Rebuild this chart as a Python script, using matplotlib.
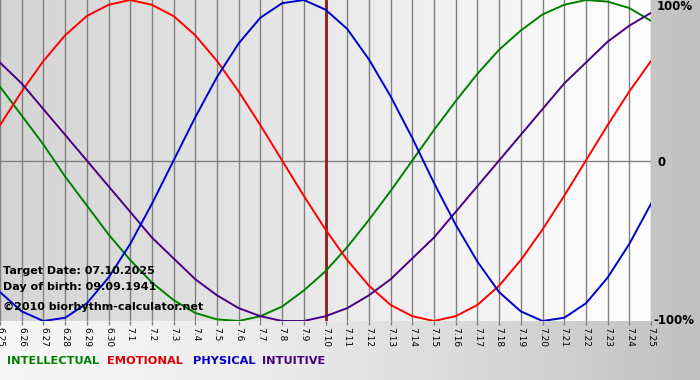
import numpy as np
import matplotlib
matplotlib.use("Agg")
import matplotlib.pyplot as plt

# days shown, 6.25 .. 7.25
dates = ["6.25", "6.26", "6.27", "6.28", "6.29", "6.30",
         "7.1", "7.2", "7.3", "7.4", "7.5", "7.6", "7.7", "7.8", "7.9", "7.10",
         "7.11", "7.12", "7.13", "7.14", "7.15", "7.16", "7.17", "7.18", "7.19",
         "7.20", "7.21", "7.22", "7.23", "7.24", "7.25"]

# -1 .. 1
physical = [-0.82, -0.94, -1.00, -0.98, -0.89, -0.73, -0.52, -0.27, 0.00, 0.27,
            0.52, 0.73, 0.89, 0.98, 1.00, 0.94, 0.82, 0.63, 0.40, 0.14,
            -0.14, -0.40, -0.63, -0.82, -0.94, -1.00, -0.98, -0.89, -0.73, -0.52, -0.27]
emotional = [0.22, 0.43, 0.62, 0.78, 0.90, 0.97, 1.00, 0.97, 0.90, 0.78,
             0.62, 0.43, 0.22, 0.00, -0.22, -0.43, -0.62, -0.78, -0.90, -0.97,
             -1.00, -0.97, -0.90, -0.78, -0.62, -0.43, -0.22, 0.00, 0.22, 0.43, 0.62]
intellectual = [0.46, 0.28, 0.10, -0.10, -0.28, -0.46, -0.62, -0.76, -0.87, -0.95,
                -0.99, -1.00, -0.97, -0.91, -0.81, -0.69, -0.54, -0.37, -0.19, 0.00,
                0.19, 0.37, 0.54, 0.69, 0.81, 0.91, 0.97, 1.00, 0.99, 0.95, 0.87]
intuitive = [0.61, 0.48, 0.32, 0.16, 0.00, -0.16, -0.32, -0.48, -0.61, -0.74,
             -0.84, -0.92, -0.97, -1.00, -1.00, -0.97, -0.92, -0.84, -0.74, -0.61,
             -0.48, -0.32, -0.16, 0.00, 0.16, 0.32, 0.48, 0.61, 0.74, 0.84, 0.92]
target_idx = 15

W, H = 700, 380
fig = plt.figure(figsize=(W / 100, H / 100), dpi=100)

# gradient page background
bg = fig.add_axes([0, 0, 1, 1], zorder=-2)
grad = np.linspace(0, 1, 256) ** 1.6
bg.imshow(np.vstack([grad, grad]), aspect="auto", cmap=matplotlib.colors.LinearSegmentedColormap.from_list(
    "bgc", ["#f6f6f6", "#c0c0c0"]), extent=[0, 1, 0, 1])
bg.axis("off")

ax = fig.add_axes([0, 59 / H, 651 / W, 321 / H])
x = np.arange(len(dates))
ax.set_xlim(0, len(dates) - 1)
ax.set_ylim(-1.0, 1.0)

# plot area gradient, grey on the left to white on the right
g = np.linspace(0, 1, 256)
ax.imshow(np.vstack([g, g]), aspect="auto", extent=[0, len(dates) - 1, -1, 1],
          cmap=matplotlib.colors.LinearSegmentedColormap.from_list("pa", ["#d4d4d4", "#ffffff"]),
          zorder=0)

for xi in x:
    ax.axvline(xi, color="#808080", lw=1, zorder=1)
ax.axhline(0, color="#808080", lw=1, zorder=1)
ax.axvline(target_idx, color="#8b1c1c", lw=2, zorder=2)

ax.plot(x, intellectual, color="#008000", lw=1.4, zorder=3)
ax.plot(x, emotional, color="#ff0000", lw=1.4, zorder=3)
ax.plot(x, intuitive, color="#4b0082", lw=1.4, zorder=3)
ax.plot(x, physical, color="#0000cc", lw=1.4, zorder=3)

ax.set_xticks(x)
ax.set_xticklabels(dates, rotation=270, fontsize=6.5, family="DejaVu Sans")
ax.tick_params(axis="x", length=3, width=1, color="#808080", pad=1)
ax.set_yticks([])
for s in ax.spines.values():
    s.set_visible(False)

txt = dict(fontsize=8, fontweight="bold", color="black", transform=ax.transAxes)
ax.text(3 / 651, 0.155, "Target Date: 07.10.2025", va="center", **txt)
ax.text(3 / 651, 0.105, "Day of birth: 09.09.1941", va="center", **txt)
ax.text(3 / 651, 0.043, "\u00a92010 biorhythm-calculator.net", va="center", **txt)

fig.text(657 / W, 1 - 7 / H, "100%", fontsize=8.5, fontweight="bold", va="center")
fig.text(657 / W, 1 - 162 / H, "0", fontsize=8.5, fontweight="bold", va="center")
fig.text(653 / W, 1 - 321 / H, "-100%", fontsize=8.5, fontweight="bold", va="center")

legend = [("INTELLECTUAL", "#008000", 7), ("EMOTIONAL", "#e00000", 107),
          ("PHYSICAL", "#0000cc", 193), ("INTUITIVE", "#4b0082", 262)]
for name, col, px in legend:
    fig.text(px / W, 1 - 361 / H, name, color=col, fontsize=8.2, fontweight="bold", va="center")

fig.savefig("out.png", dpi=100)
